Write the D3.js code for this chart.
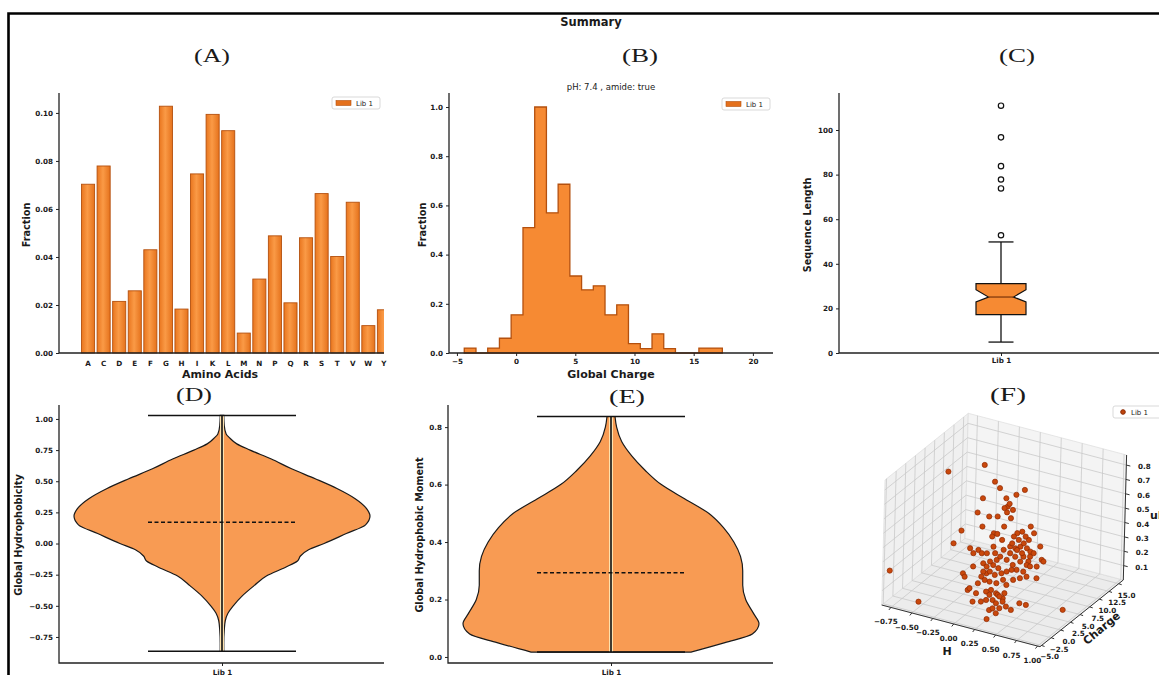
<!DOCTYPE html>
<meta charset="utf-8">
<style>
  body { margin: 0; background: #fff; }
  text { font-family: "DejaVu Sans", sans-serif; fill: #1a1a1a; }
  .title { font-family: "Liberation Serif", "DejaVu Serif", serif; font-size: 19px; }
  .axlabel { font-size: 9.7px; font-weight: bold; }
  .xlabel { font-size: 11px; font-weight: bold; }
  .tick text { font-size: 7.2px; font-weight: bold; }
  .leg { font-size: 7px; }
</style>
<body>
<svg id="fig" width="1159" height="675"></svg>
<script src="https://d3js.org/d3.v7.min.js"></script>
<script>
// ---------- data ----------
// (A) amino acid composition
var aminoAcids = ["", "A", "C", "D", "E", "F", "G", "H", "I", "K", "L", "M", "N", "P", "Q", "R", "S", "T", "V", "W", "Y"];
var aaFraction = [null, 0.0703, 0.0779, 0.0215, 0.0259, 0.0430, 0.1028, 0.0183, 0.0746, 0.0994, 0.0926,
  0.0083, 0.0308, 0.0488, 0.0209, 0.0480, 0.0664, 0.0402, 0.0628, 0.0114, 0.0180];
var aaTicks = [0, 0.02, 0.04, 0.06, 0.08, 0.10];

// (B) global charge histogram (bin edges and normalised heights)
var chargeEdges = [-4.38, -3.39, -2.40, -1.41, -0.42, 0.58, 1.57, 2.56, 3.55, 4.54, 5.53, 6.52, 7.51,
  8.50, 9.49, 10.49, 11.48, 12.47, 13.46, 14.45, 15.44, 16.43, 17.42];
var chargeFraction = [0.02, 0, 0.02, 0.06, 0.155, 0.51, 1.0, 0.57, 0.686, 0.313, 0.257, 0.273, 0.155,
  0.196, 0.038, 0.018, 0.078, 0.018, 0, 0, 0.02, 0.02];
var chargeXTicks = [-5, 0, 5, 10, 15, 20];
var chargeYTicks = [0, 0.2, 0.4, 0.6, 0.8, 1.0];

// (C) sequence length box plot
var lenWhiskers = [4.9, 49.8];
var lenQuartiles = [17.2, 25.1, 31.1];   // q1, median, q3
var lenNotch = [22.9, 28.4];
var lenOutliers = [52.8, 73.8, 77.8, 83.8, 96.7, 110.9];
var lenTicks = [0, 20, 40, 60, 80, 100];

// (D) global hydrophobicity violin (kde outline, relative width)
var hydroLevels = [-0.864, -0.80, -0.70, -0.62, -0.56, -0.50, -0.42, -0.34, -0.26, -0.19, -0.14, -0.10, -0.05,
  0.0, 0.08, 0.15, 0.22, 0.29, 0.36, 0.44, 0.52, 0.60, 0.68, 0.75, 0.80, 0.85, 0.88, 0.95, 1.028];
var hydroDensity = [0.012, 0.012, 0.015, 0.022, 0.04, 0.076, 0.137, 0.215, 0.30, 0.43, 0.51, 0.53, 0.585,
  0.69, 0.84, 0.97, 1.0, 0.97, 0.90, 0.78, 0.63, 0.47, 0.33, 0.19, 0.10, 0.05, 0.028, 0.015, 0.012];
var hydroMean = 0.171;
var hydroTicks = [-0.75, -0.5, -0.25, 0, 0.25, 0.5, 0.75, 1.0];

// (E) global hydrophobic moment violin
var momentLevels = [0.017, 0.05, 0.08, 0.116, 0.15, 0.20, 0.25, 0.30, 0.35, 0.40, 0.45, 0.50, 0.55,
  0.60, 0.65, 0.70, 0.75, 0.80, 0.837];
var momentDensity = [0.54, 0.77, 0.955, 1.0, 0.965, 0.91, 0.89, 0.89, 0.875, 0.83, 0.76, 0.66, 0.50,
  0.34, 0.23, 0.14, 0.072, 0.038, 0.027];
var momentMean = 0.293;
var momentTicks = [0, 0.2, 0.4, 0.6, 0.8];

// (F) 3d scatter: H, charge, uH per peptide
var scatH = [-0.237, -0.621, -0.11, -0.004, 0.202, -0.203, 0.03, 0.103, 0.056, 0.049, 0.115, 0.201, 0.087,
  -0.217, -0.123, 0.022, 0.135, 0.102, -0.111, -0.358, 0.328, 0.414, -0.018, 0.068, 0.008, 0.215, 0.229,
  0.36, 0.221, 0.235, 0.34, 0.354, 0.247, 0.301, 0.334, 0.307, 0.42, 0.447, 0.513, 0.579, -0.403, -0.25,
  -0.165, -0.151, -0.005, -0.018, 0.048, 0.154, 0.148, 0.181, 0.287, 0.34, 0.374, 0.46, 0.426, 0.393,
  0.305, 0.187, 0.114, 0.08, -0.045, 0.041, 0.074, 0.18, 0.08, 0.047, -0.019, -0.005, 0.14, 0.174, 0.279,
  0.293, 0.307, 0.432, 0.466, 0.50, 0.472, 0.439, 0.359, 0.546, -0.238, -0.172, -0.013, 0.08, 0.206, 0.24,
  0.325, -0.066, -0.132, 0.013, 0.087, 0.172, 0.206, 0.292, 0.286, 0.212, 0.179, 0.019, 0.073, 0.252,
  0.286, 0.371, 0.338, 0.258, 0.431, 0.485, 0.518, 0.298, 0.218, -0.51, -0.82, 0.325, 0.956, 0.226, 0.10,
  0.135, 0.367, 0.241, 0.40, 0.082, 0.067, 0.26, -0.065, -0.119];
var scatCharge = [7, 6, 7, 6, 8, 6, 7, 8, 6, 7, 6, 5, 6, 5, 6, 5, 6, 5, 4, 4, 7, 6, 5, 4, 4, 6, 7, 5, 5, 6,
  5, 6, 4, 5, 6, 4, 5, 7, 6, 5, 3, 4, 3, 4, 3, 5, 4, 3, 4, 5, 4, 5, 6, 5, 4, 3, 3, 4, 3, 2, 3, 2, 3, 2, 2,
  1, 2, 3, 2, 3, 2, 3, 4, 3, 4, 5, 3, 2, 2, 4, 2, 1, 1, 2, 1, 2, 1, 0, 1, 0, 1, 0, 1, 0, 1, 0, -1, -1, 0,
  0, 1, 0, -1, -1, 0, 1, 2, -1, -1, -3.5, -4.4, -4, 2, 1, 2, 6, 4, 5, 5, 5, 1, 2, 3, 2];
var scatUH = [0.804, 0.72, 0.707, 0.70, 0.676, 0.599, 0.613, 0.627, 0.57, 0.558, 0.609, 0.601, 0.545,
  0.519, 0.484, 0.528, 0.512, 0.47, 0.459, 0.393, 0.462, 0.45, 0.405, 0.435, 0.408, 0.42, 0.411, 0.44,
  0.419, 0.376, 0.39, 0.394, 0.397, 0.361, 0.333, 0.36, 0.345, 0.341, 0.28, 0.30, 0.319, 0.287, 0.287,
  0.29, 0.311, 0.312, 0.298, 0.312, 0.337, 0.297, 0.31, 0.297, 0.281, 0.34, 0.274, 0.314, 0.277, 0.273,
  0.283, 0.288, 0.235, 0.247, 0.241, 0.257, 0.218, 0.234, 0.168, 0.171, 0.204, 0.199, 0.249, 0.241,
  0.222, 0.25, 0.27, 0.253, 0.221, 0.227, 0.203, 0.20, 0.157, 0.165, 0.144, 0.148, 0.178, 0.185, 0.184,
  0.123, 0.079, 0.10, 0.101, 0.113, 0.108, 0.12, 0.085, 0.083, 0.10, 0.064, 0.051, 0.067, 0.062, 0.062,
  0.067, 0.054, 0.048, 0.081, 0.053, 0.026, 0.036, 0.036, 0.224, 0.054, 0.086, 0.10, 0.093, 0.315,
  0.347, 0.34, 0.273, 0.374, 0.179, 0.095, 0.302, 0.223];
var hTicks = [-0.75, -0.5, -0.25, 0, 0.25, 0.5, 0.75, 1.0];
var qTicks = [-5, -2.5, 0, 2.5, 5, 7.5, 10, 12.5, 15];
var uTicks = [0.1, 0.2, 0.3, 0.4, 0.5, 0.6, 0.7, 0.8];

// ---------- drawing ----------
var ORANGE = "#f68a33", EDGE = "#b4500e", VIOLIN = "#f89b53";
var svg = d3.select("#fig");

var defs = svg.append("defs");
var grad = defs.append("linearGradient").attr("id", "barGrad");
grad.append("stop").attr("offset", "0%").attr("stop-color", "#e9761f");
grad.append("stop").attr("offset", "45%").attr("stop-color", "#fa9a46");
grad.append("stop").attr("offset", "100%").attr("stop-color", "#e5721c");
defs.append("clipPath").attr("id", "clipA").append("rect")
  .attr("x", 59).attr("y", 60).attr("width", 325).attr("height", 294);

// figure frame
svg.append("path").attr("d", "M8.5,675V13.5H1159").attr("fill", "none")
  .attr("stroke", "#000").attr("stroke-width", 2.6);

svg.append("text").attr("x", 591).attr("y", 26).attr("text-anchor", "middle")
  .attr("font-size", 11.5).attr("font-weight", "bold").text("Summary");

function title(txt, x, y) {
  svg.append("text").attr("class", "title").attr("x", x).attr("y", y)
    .attr("text-anchor", "middle").attr("textLength", 36).attr("lengthAdjust", "spacingAndGlyphs").text(txt);
}
title("(A)", 212, 62);
title("(B)", 640, 62);
title("(C)", 1017, 62);
title("(D)", 194, 401);
title("(E)", 627, 403);
title("(F)", 1008, 401);

function spines(x0, x1, y0, y1) {
  svg.append("path").attr("d", "M" + x0 + "," + y0 + "V" + y1 + "H" + x1)
    .attr("fill", "none").attr("stroke", "#222").attr("stroke-width", 1.3);
}
function styleAxis(g) {
  g.select(".domain").remove();
  g.selectAll(".tick line").attr("stroke", "#222");
}
function yLabel(txt, x, y) {
  svg.append("text").attr("class", "axlabel").attr("text-anchor", "middle")
    .attr("transform", "translate(" + x + "," + y + ") rotate(-90)").text(txt);
}
function xLabel(txt, x, y) {
  svg.append("text").attr("class", "xlabel").attr("text-anchor", "middle")
    .attr("x", x).attr("y", y).text(txt);
}
function legend(x, y, w, marker) {
  var g = svg.append("g").attr("transform", "translate(" + x + "," + y + ")");
  g.append("rect").attr("width", w).attr("height", 12).attr("rx", 2)
    .attr("fill", "#fff").attr("stroke", "#cfcfcf").attr("stroke-width", 0.8);
  if (marker === "dot") {
    g.append("circle").attr("cx", 10).attr("cy", 6).attr("r", 2.3).attr("fill", "#c0440c").attr("stroke", "#8a2a04");
    g.append("text").attr("class", "leg").attr("x", 18).attr("y", 8.5).text("Lib 1");
  } else {
    g.append("rect").attr("x", 4).attr("y", 3.5).attr("width", 15).attr("height", 5)
      .attr("fill", "#e4701c").attr("stroke", EDGE).attr("stroke-width", 0.6);
    g.append("text").attr("class", "leg").attr("x", 24).attr("y", 8.5).text("Lib 1");
  }
}

// ----- (A) bar chart -----
var xA = d3.scaleBand().domain(aminoAcids).range([64.7, 391.7]).paddingInner(0.16).paddingOuter(0.08);
var yA = d3.scaleLinear().domain([0, 0.1083]).range([353, 93]);
svg.append("g").attr("clip-path", "url(#clipA)").selectAll("rect")
  .data(aminoAcids.map(function(d, i) { return {aa: d, v: aaFraction[i]}; }).filter(function(d) { return d.v != null; }))
  .enter().append("rect")
  .attr("x", function(d) { return xA(d.aa); })
  .attr("y", function(d) { return yA(d.v); })
  .attr("width", xA.bandwidth())
  .attr("height", function(d) { return yA(0) - yA(d.v); })
  .attr("fill", "url(#barGrad)").attr("stroke", EDGE).attr("stroke-width", 0.9);
svg.append("g").attr("transform", "translate(59,0)")
  .call(d3.axisLeft(yA).tickValues(aaTicks).tickFormat(d3.format(".2f")).tickSize(3).tickPadding(3))
  .call(styleAxis);
svg.append("g").attr("transform", "translate(0,353)")
  .call(d3.axisBottom(xA).tickSize(0).tickPadding(8))
  .call(styleAxis)
  .selectAll("text").attr("font-size", 8);
spines(59, 384, 93, 353);
yLabel("Fraction", 30, 225);
xLabel("Amino Acids", 220, 378);
legend(332, 97, 48);

// ----- (B) histogram -----
var xB = d3.scaleLinear().domain([-5.67, 21.7]).range([449, 773]);
var yB = d3.scaleLinear().domain([0, 1.057]).range([353, 93]);
var histData = chargeEdges.map(function(e, i) {
  return {e: e, v: i < chargeFraction.length ? chargeFraction[i] : chargeFraction[chargeFraction.length - 1]};
});
svg.append("path").datum(histData)
  .attr("d", d3.area().curve(d3.curveStepAfter)
    .x(function(d) { return xB(d.e); }).y0(yB(0)).y1(function(d) { return yB(d.v); }))
  .attr("fill", ORANGE).attr("stroke", EDGE).attr("stroke-width", 1.3);
svg.append("g").attr("transform", "translate(449,0)")
  .call(d3.axisLeft(yB).tickValues(chargeYTicks).tickFormat(d3.format(".1f")).tickSize(3).tickPadding(3))
  .call(styleAxis);
svg.append("g").attr("transform", "translate(0,353)")
  .call(d3.axisBottom(xB).tickValues(chargeXTicks).tickFormat(d3.format("d")).tickSize(3).tickPadding(3))
  .call(styleAxis);
spines(449, 773, 93, 353);
yLabel("Fraction", 426, 225);
xLabel("Global Charge", 611, 378);
svg.append("text").attr("x", 611).attr("y", 90).attr("text-anchor", "middle")
  .attr("font-size", 8.5).text("pH: 7.4 ,  amide: true");
legend(722, 98, 48);

// ----- (C) box plot -----
var xC = d3.scalePoint().domain(["Lib 1"]).range([839, 1163]).padding(0.5);
var yC = d3.scaleLinear().domain([0, 116.6]).range([353, 93]);
var cx = xC("Lib 1"), bw = 25, nw = 12.5;
svg.append("g").attr("stroke", "#111").attr("stroke-width", 1.3).selectAll("line")
  .data([[lenWhiskers[0], lenQuartiles[0]], [lenQuartiles[2], lenWhiskers[1]]])
  .enter().append("line")
  .attr("x1", cx).attr("x2", cx)
  .attr("y1", function(d) { return yC(d[0]); }).attr("y2", function(d) { return yC(d[1]); });
svg.append("g").attr("stroke", "#111").attr("stroke-width", 1.3).selectAll("line")
  .data(lenWhiskers).enter().append("line")
  .attr("x1", cx - nw).attr("x2", cx + nw)
  .attr("y1", function(d) { return yC(d); }).attr("y2", function(d) { return yC(d); });
var notchPts = [
  [cx - bw, lenQuartiles[0]], [cx + bw, lenQuartiles[0]], [cx + bw, lenNotch[0]], [cx + bw - nw, lenQuartiles[1]],
  [cx + bw, lenNotch[1]], [cx + bw, lenQuartiles[2]], [cx - bw, lenQuartiles[2]], [cx - bw, lenNotch[1]],
  [cx - bw + nw, lenQuartiles[1]], [cx - bw, lenNotch[0]]
];
svg.append("path")
  .attr("d", d3.line().x(function(d) { return d[0]; }).y(function(d) { return yC(d[1]); })(notchPts) + "Z")
  .attr("fill", ORANGE).attr("stroke", "#111").attr("stroke-width", 1.2);
svg.append("line").attr("x1", cx - bw + nw).attr("x2", cx + bw - nw)
  .attr("y1", yC(lenQuartiles[1])).attr("y2", yC(lenQuartiles[1]))
  .attr("stroke", "#7a3308").attr("stroke-width", 1.2);
svg.append("g").selectAll("circle").data(lenOutliers).enter().append("circle")
  .attr("cx", cx).attr("cy", function(d) { return yC(d); }).attr("r", 2.7)
  .attr("fill", "none").attr("stroke", "#111").attr("stroke-width", 1.2);
svg.append("g").attr("transform", "translate(839,0)")
  .call(d3.axisLeft(yC).tickValues(lenTicks).tickFormat(d3.format("d")).tickSize(3).tickPadding(3))
  .call(styleAxis);
svg.append("g").attr("transform", "translate(0,353)")
  .call(d3.axisBottom(xC).tickSize(3).tickPadding(2))
  .call(styleAxis);
spines(839, 1160, 93, 353);
yLabel("Sequence Length", 811, 225);

// ----- violins (D, E) -----
function violin(levels, dens, lo, hi, mean, yScale, xScale) {
  var c = xScale("Lib 1");
  var w = d3.scaleLinear().domain([0, 1]).range([0, 148]);
  var data = levels.map(function(l, i) { return {l: l, d: dens[i]}; });
  svg.append("path").datum(data)
    .attr("d", d3.area().curve(d3.curveMonotoneY)
      .y(function(d) { return yScale(d.l); })
      .x0(function(d) { return c - w(d.d); })
      .x1(function(d) { return c + w(d.d); }))
    .attr("fill", VIOLIN).attr("stroke", "#1a1a1a").attr("stroke-width", 1.2);
  svg.append("line").attr("x1", c).attr("x2", c).attr("y1", yScale(lo)).attr("y2", yScale(hi))
    .attr("stroke", "#fde2ae").attr("stroke-width", 4);
  svg.append("line").attr("x1", c).attr("x2", c).attr("y1", yScale(lo)).attr("y2", yScale(hi))
    .attr("stroke", "#111").attr("stroke-width", 1.6);
  svg.append("g").attr("stroke", "#111").attr("stroke-width", 1.5).selectAll("line")
    .data([lo, hi]).enter().append("line")
    .attr("x1", c - w(0.5)).attr("x2", c + w(0.5))
    .attr("y1", function(d) { return yScale(d); }).attr("y2", function(d) { return yScale(d); });
  svg.append("line").attr("x1", c - w(0.5)).attr("x2", c + w(0.5))
    .attr("y1", yScale(mean)).attr("y2", yScale(mean))
    .attr("stroke", "#111").attr("stroke-width", 1.5).attr("stroke-dasharray", "4,2.5");
}

var xD = d3.scalePoint().domain(["Lib 1"]).range([59, 385]).padding(0.5);
var yD = d3.scaleLinear().domain([-0.959, 1.112]).range([663, 405]);
violin(hydroLevels, hydroDensity, hydroLevels[0], hydroLevels[hydroLevels.length - 1], hydroMean, yD, xD);
svg.append("g").attr("transform", "translate(59,0)")
  .call(d3.axisLeft(yD).tickValues(hydroTicks).tickFormat(d3.format(".2f")).tickSize(3).tickPadding(3))
  .call(styleAxis);
svg.append("g").attr("transform", "translate(0,663)")
  .call(d3.axisBottom(xD).tickSize(3).tickPadding(4))
  .call(styleAxis);
spines(59, 384, 405, 663);
yLabel("Global Hydrophobicity", 22, 535);

var xE = d3.scalePoint().domain(["Lib 1"]).range([448, 774]).padding(0.5);
var yE = d3.scaleLinear().domain([-0.021, 0.877]).range([663, 405]);
violin(momentLevels, momentDensity, momentLevels[0], momentLevels[momentLevels.length - 1], momentMean, yE, xE);
svg.append("g").attr("transform", "translate(448,0)")
  .call(d3.axisLeft(yE).tickValues(momentTicks).tickFormat(d3.format(".1f")).tickSize(3).tickPadding(3))
  .call(styleAxis);
svg.append("g").attr("transform", "translate(0,663)")
  .call(d3.axisBottom(xE).tickSize(3).tickPadding(4))
  .call(styleAxis);
spines(448, 773, 405, 663);
yLabel("Global Hydrophobic Moment", 423, 535);

// ----- (F) 3d scatter (fixed oblique projection) -----
var fa = d3.scaleLinear().domain([-0.86, 1.03]).range([0, 1]);
var fb = d3.scaleLinear().domain([-5.4, 16.2]).range([0, 1]);
var fc = d3.scaleLinear().domain([0, 0.87]).range([0, 1]);
var O = [881.7, 605], EX = [158.3, 41.7], EY = [83.3, -66.7], EZ = [3.3, -125];
function proj(h, q, u) {
  var a = fa(h), b = fb(q), c = fc(u);
  return [O[0] + a * EX[0] + b * EY[0] + c * EZ[0], O[1] + a * EX[1] + b * EY[1] + c * EZ[1]];
}
var H0 = fa.domain()[0], H1 = fa.domain()[1], Q0 = fb.domain()[0], Q1 = fb.domain()[1],
  U0 = fc.domain()[0], U1 = fc.domain()[1];
var poly = d3.line().x(function(d) { return d[0]; }).y(function(d) { return d[1]; });
var g3 = svg.append("g");
function pane(pts, fill) {
  g3.append("path").attr("d", poly(pts.map(function(p) { return proj(p[0], p[1], p[2]); })) + "Z")
    .attr("fill", fill).attr("stroke", "#d8d8d8").attr("stroke-width", 0.6);
}
pane([[H0, Q0, U0], [H1, Q0, U0], [H1, Q1, U0], [H0, Q1, U0]], "#ececec");
pane([[H0, Q0, U0], [H0, Q1, U0], [H0, Q1, U1], [H0, Q0, U1]], "#f0f0f0");
pane([[H0, Q1, U0], [H1, Q1, U0], [H1, Q1, U1], [H0, Q1, U1]], "#f4f4f4");
function seg(p, q, color, w) {
  var a = proj(p[0], p[1], p[2]), b = proj(q[0], q[1], q[2]);
  g3.append("line").attr("x1", a[0]).attr("y1", a[1]).attr("x2", b[0]).attr("y2", b[1])
    .attr("stroke", color).attr("stroke-width", w);
}
var GRID = "#c9c9c9";
hTicks.forEach(function(h) { seg([h, Q0, U0], [h, Q1, U0], GRID, 0.8); seg([h, Q1, U0], [h, Q1, U1], GRID, 0.8); });
qTicks.forEach(function(q) { seg([H0, q, U0], [H1, q, U0], GRID, 0.8); seg([H0, q, U0], [H0, q, U1], GRID, 0.8); });
uTicks.forEach(function(u) { seg([H0, Q0, u], [H0, Q1, u], GRID, 0.8); seg([H0, Q1, u], [H1, Q1, u], GRID, 0.8); });
seg([H0, Q0, U0], [H1, Q0, U0], "#333", 1);
seg([H1, Q0, U0], [H1, Q1, U0], "#333", 1);
seg([H1, Q1, U0], [H1, Q1, U1], "#333", 1);
hTicks.forEach(function(h) {
  var p = proj(h, Q0, U0);
  g3.append("line").attr("x1", p[0]).attr("y1", p[1]).attr("x2", p[0] - 2).attr("y2", p[1] + 2.5).attr("stroke", "#333");
  g3.append("text").attr("x", p[0] - 5).attr("y", p[1] + 17).attr("text-anchor", "middle")
    .attr("font-size", 7.2).attr("font-weight", "bold").text(d3.format(".2f")(h));
});
qTicks.forEach(function(q) {
  var p = proj(H1, q, U0);
  g3.append("line").attr("x1", p[0]).attr("y1", p[1]).attr("x2", p[0] + 3).attr("y2", p[1] + 1).attr("stroke", "#333");
  g3.append("text").attr("x", p[0] + 8).attr("y", p[1] + 14).attr("text-anchor", "middle")
    .attr("font-size", 7.2).attr("font-weight", "bold").text(d3.format(".1f")(q));
});
uTicks.forEach(function(u) {
  var p = proj(H1, Q1, u);
  g3.append("line").attr("x1", p[0]).attr("y1", p[1]).attr("x2", p[0] + 4).attr("y2", p[1] + 1).attr("stroke", "#333");
  g3.append("text").attr("x", p[0] + 18).attr("y", p[1] + 4).attr("text-anchor", "middle")
    .attr("font-size", 7.2).attr("font-weight", "bold").text(d3.format(".1f")(u));
});
var pts = scatH.map(function(h, i) { return {h: h, q: scatCharge[i], u: scatUH[i]}; });
pts.sort(function(a, b) { return (fb(b.q) - fa(b.h)) - (fb(a.q) - fa(a.h)); });
g3.selectAll("circle.pt").data(pts).enter().append("circle").attr("class", "pt")
  .attr("cx", function(d) { return proj(d.h, d.q, d.u)[0]; })
  .attr("cy", function(d) { return proj(d.h, d.q, d.u)[1]; })
  .attr("r", 2.6).attr("fill", "#c9480c").attr("stroke", "#8f2a03").attr("stroke-width", 0.7);
g3.append("text").attr("class", "xlabel").attr("x", 947).attr("y", 655).attr("text-anchor", "middle").text("H");
g3.append("text").attr("class", "xlabel").attr("text-anchor", "middle")
  .attr("transform", "translate(1104,631) rotate(-40)").text("Charge");
g3.append("text").attr("class", "xlabel").attr("x", 1150).attr("y", 519).text("uH");
legend(1113, 406, 60, "dot");
</script>
</body>
